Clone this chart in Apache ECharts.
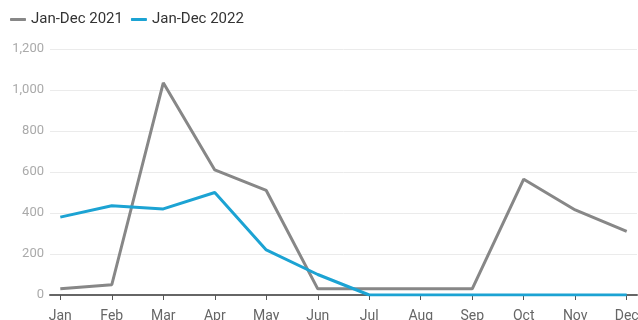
<!DOCTYPE html>
<html>
<head>
<meta charset="utf-8">
<style>
  html, body { margin: 0; padding: 0; background: #fff; }
  #chart { width: 638px; height: 320px; }
</style>
<script src="https://cdn.jsdelivr.net/npm/echarts@6/dist/echarts.min.js"></script>
</head>
<body>
<div id="chart"></div>
<script>
// Monthly totals, two reporting years
const months = ['Jan', 'Feb', 'Mar', 'Apr', 'May', 'Jun', 'Jul', 'Aug', 'Sep', 'Oct', 'Nov', 'Dec'];
const series2021 = [30, 50, 1035, 610, 510, 30, 30, 30, 30, 565, 415, 310];
const series2022 = [380, 435, 420, 500, 220, 100, 0, 0, 0, 0, 0, 0];
const yTicks = [0, 200, 400, 600, 800, 1000, 1200];

const monthIdx = months.map((_, i) => i);
const toPoints = arr => arr.map((v, i) => [i, v]);

const chart = echarts.init(document.getElementById('chart'), null, { renderer: 'canvas' });
chart.setOption({
  animation: false,
  textStyle: { fontFamily: 'Roboto' },
  legend: {
    left: 5,
    top: 7,
    itemWidth: 16,
    itemHeight: 3,
    itemGap: 8,
    icon: 'roundRect',
    textStyle: { fontSize: 15, color: '#333', fontFamily: 'Roboto' },
    data: ['Jan-Dec 2021', 'Jan-Dec 2022']
  },
  grid: { left: 50, right: 1, top: 49, bottom: 25, outerBoundsMode: 'none', containLabel: false },
  xAxis: {
    type: 'value',
    min: -0.2,
    max: 11.2,
    axisLine: { show: true, lineStyle: { color: '#666', width: 2 } },
    axisTick: { show: true, customValues: monthIdx, length: 5, lineStyle: { color: '#555', width: 1 } },
    axisLabel: {
      customValues: monthIdx,
      formatter: v => months[Math.round(v)],
      color: '#666',
      fontSize: 14,
      margin: 14,
      fontFamily: 'Roboto'
    },
    splitLine: { show: false }
  },
  yAxis: {
    type: 'value',
    min: yTicks[0],
    max: yTicks[yTicks.length - 1],
    interval: 200,
    axisLine: { show: false },
    axisTick: { show: false },
    axisLabel: {
      color: '#aaa',
      fontSize: 13,
      margin: 6,
      fontFamily: 'Roboto',
      formatter: v => v.toLocaleString('en-US')
    },
    splitLine: { lineStyle: { color: '#ebebeb', width: 1 } }
  },
  series: [
    {
      name: 'Jan-Dec 2021',
      type: 'line',
      data: toPoints(series2021),
      symbol: 'none',
      color: '#878787',
      lineStyle: { width: 3, color: '#878787' },
      z: 3
    },
    {
      name: 'Jan-Dec 2022',
      type: 'line',
      data: toPoints(series2022),
      symbol: 'none',
      color: '#1ca3d3',
      lineStyle: { width: 3, color: '#1ca3d3' },
      z: 4
    }
  ]
});
</script>
</body>
</html>
